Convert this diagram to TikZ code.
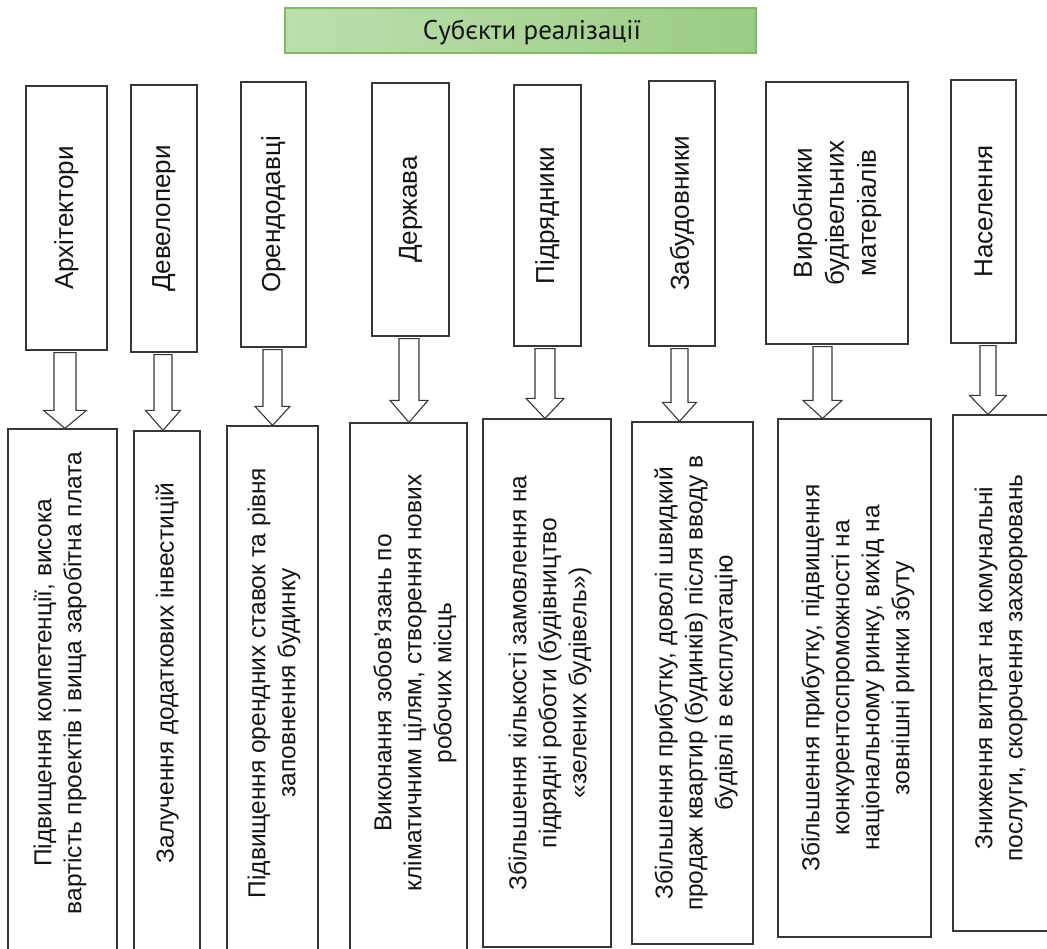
\documentclass[tikz,border=0pt]{standalone}
\usepackage{fontspec}
\setmainfont{Liberation Sans}
\newfontfamily\titlefont{PT Sans}
\usetikzlibrary{calc}
\definecolor{gleft}{RGB}{188,222,174}
\definecolor{gright}{RGB}{155,204,132}
\definecolor{gborder}{RGB}{128,184,102}
\definecolor{ln}{RGB}{55,55,55}
\tikzset{
  frame/.style={draw=ln, line width=1.2pt, fill=white, inner sep=0pt},
  vtxt/.style={rotate=90, align=center, inner sep=0pt, text=black!92},
  toptxt/.style={vtxt, font=\fontsize{26}{32}\selectfont},
  bottxt/.style={vtxt, font=\fontsize{24.5}{30}\selectfont},
  blk/.style={draw=ln, line width=1.1pt, fill=white, line join=miter},
}
% name, x1, y1, x2, y2
\newcommand\mkbox[5]{%
  \node[frame, minimum width={(#4-#2)*1pt}, minimum height={(#5-#3)*1pt}]
    (#1) at ({(#2+#4)/2},{(#3+#5)/2}) {};}
% from, to, dx, shaft half, head half, head length
\newcommand\blkarrow[6]{%
  \path ($(#1.south)+(#3pt,-2pt)$) coordinate (s-#1) (s-#1 |- #2.north) coordinate (e-#1);
  \draw[blk] ($(s-#1)+(-#4pt,0pt)$) -- ($(e-#1)+(-#4pt,#6pt)$) -- ($(e-#1)+(-#5pt,#6pt)$)
    -- (e-#1) -- ($(e-#1)+(#5pt,#6pt)$) -- ($(e-#1)+(#4pt,#6pt)$) -- ($(s-#1)+(#4pt,0pt)$) -- cycle;}
\begin{document}
\begin{tikzpicture}[x=1pt,y=-1pt]
\useasboundingbox (0,0) rectangle (1047,949);
% title
\node[draw=gborder, line width=1.2pt, left color=gleft, right color=gright,
  minimum width=471pt, minimum height=45pt, inner sep=0pt] (title) at (520.5,30.5) {};
\node[font=\titlefont\fontsize{27}{30}\selectfont, inner sep=0pt, text=black!92] (titletext) at (532,32.5) {Субєкти реалізації};
% top boxes
\mkbox{a1}{26}{86}{107}{350}
\mkbox{a2}{131}{85}{197}{352}
\mkbox{a3}{241}{82}{306}{347}
\mkbox{a4}{372}{83}{449}{336}
\mkbox{a5}{514}{85}{581}{346}
\mkbox{a6}{649}{81}{715}{346}
\mkbox{a7}{766}{82}{908}{344}
\mkbox{a8}{951}{80}{1016}{343}
\node[toptxt] at (a1.center) {Архітектори};
\node[toptxt] at (a2.center) {Девелопери};
\node[toptxt] at (a3.center) {Орендодавці};
\node[toptxt] at (a4.center) {Держава};
\node[toptxt] at (a5.center) {Підрядники};
\node[toptxt] at (a6.center) {Забудовники};
\node[toptxt] at (a7.center) {Виробники\\будівельних\\матеріалів};
\node[toptxt] at (a8.center) {Населення};
% bottom boxes
\mkbox{b1}{8}{429}{117}{965}
\mkbox{b2}{134}{431}{200}{965}
\mkbox{b3}{227}{426}{318}{965}
\mkbox{b4}{350}{423}{467}{965}
\mkbox{b5}{483}{419}{611}{947}
\mkbox{b6}{632}{422}{753}{944}
\mkbox{b7}{778}{419}{931}{937}
\mkbox{b8}{953}{415}{1050}{931}
\node[bottxt] at (60,683) {Підвищення компетенції, висока\\вартість проектів і вища заробітна плата};
\node[bottxt] at (167,673) {Залучення додаткових інвестицій};
\node[bottxt] at (274,683) {Підвищення орендних ставок та рівня\\заповнення будинку};
\node[bottxt] at (415,683) {Виконання зобов'язань по\\кліматичним цілям, створення нових\\робочих місць};
\node[bottxt] at (550,683) {Збільшення кількості замовлення на\\підрядні роботи (будівництво\\«зелених будівель»)};
\node[bottxt] at (696,683) {Збільшення прибутку, доволі швидкий\\продаж квартир (будинків) після вводу в\\будівлі в експлуатацію};
\node[bottxt] at (858,678) {Збільшення прибутку, підвищення\\конкурентоспроможності на\\національному ринку, вихід на\\зовнішні ринки збуту};
\node[bottxt] at (1001,668) {Зниження витрат на комунальні\\послуги, скорочення захворювань};
% arrows
\blkarrow{a1}{b1}{-1.5}{11}{21.5}{18}
\blkarrow{a2}{b2}{-1}{9}{17.5}{20}
\blkarrow{a3}{b3}{-1}{9.5}{17.5}{19}
\blkarrow{a4}{b4}{-1.5}{10}{19}{22}
\blkarrow{a5}{b5}{-2.5}{10}{19}{20}
\blkarrow{a6}{b6}{-2.5}{8.5}{17}{19}
\blkarrow{a7}{b7}{-14.5}{9.5}{19.5}{18}
\blkarrow{a8}{b8}{4.5}{8}{18.5}{19}
\end{tikzpicture}
\end{document}
